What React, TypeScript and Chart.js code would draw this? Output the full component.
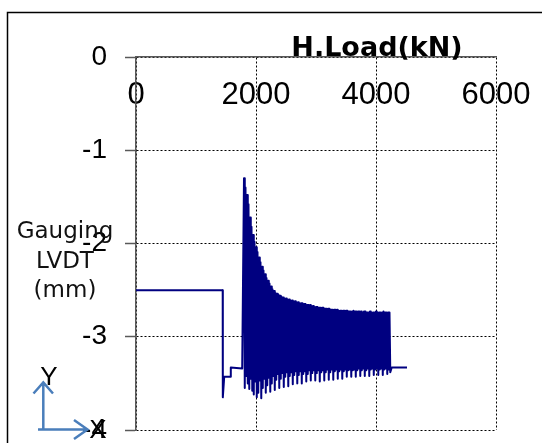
import React, { useEffect, useRef } from "react";
import { Chart, registerables } from "chart.js";

Chart.register(...registerables);

// Axis tick labels
const xTickLabels = ["0", "2000", "4000", "6000"];
const yTickLabels = ["-4", "-3", "-2", "-1", "0"];

// Pre-cycle part (H.Load kN, Gauging LVDT mm)
const preLoads = [0, 1445, 1447, 1470, 1575, 1580, 1770];
const preLvdt = [-2.5, -2.5, -3.65, -3.43, -3.43, -3.33, -3.34];

// Cyclic part: peaks
const peakLoads = [
  1800, 1825, 1850, 1875, 1900, 1925, 1950, 1975, 2000, 2025,
  2050, 2075, 2100, 2125, 2150, 2175, 2200, 2225, 2250, 2275,
  2300, 2325, 2350, 2375, 2400, 2425, 2450, 2475, 2500, 2525,
  2550, 2575, 2600, 2625, 2650, 2675, 2700, 2725, 2750, 2775,
  2800, 2825, 2850, 2875, 2900, 2925, 2950, 2975, 3000, 3025,
  3050, 3075, 3100, 3125, 3150, 3175, 3200, 3225, 3250, 3275,
  3300, 3325, 3350, 3375, 3400, 3425, 3450, 3475, 3500, 3525,
  3550, 3575, 3600, 3625, 3650, 3675, 3700, 3725, 3750, 3775,
  3800, 3825, 3850, 3875, 3900, 3925, 3950, 3975, 4000, 4025,
  4050, 4075, 4100, 4125, 4150, 4175, 4200, 4225,
];
const peakLvdt = [
  -1.30, -1.40, -1.48, -1.58, -1.72, -1.82, -1.91, -1.98, -2.04, -2.09,
  -2.15, -2.20, -2.25, -2.29, -2.33, -2.37, -2.40, -2.43, -2.46, -2.49,
  -2.51, -2.53, -2.54, -2.55, -2.56, -2.57, -2.58, -2.59, -2.59, -2.60,
  -2.60, -2.61, -2.61, -2.62, -2.62, -2.63, -2.63, -2.64, -2.64, -2.64,
  -2.65, -2.65, -2.66, -2.66, -2.66, -2.67, -2.67, -2.68, -2.68, -2.68,
  -2.69, -2.69, -2.69, -2.69, -2.70, -2.70, -2.70, -2.70, -2.71, -2.71,
  -2.71, -2.71, -2.71, -2.72, -2.72, -2.72, -2.72, -2.72, -2.72, -2.72,
  -2.73, -2.73, -2.73, -2.72, -2.73, -2.73, -2.73, -2.73, -2.73, -2.74,
  -2.73, -2.73, -2.74, -2.74, -2.73, -2.74, -2.74, -2.74, -2.73, -2.74,
  -2.74, -2.74, -2.74, -2.73, -2.74, -2.74, -2.74, -2.74,
];

// Cyclic part: troughs
const troughLoads = [
  1813, 1838, 1863, 1888, 1913, 1938, 1963, 1988, 2013, 2038,
  2063, 2088, 2113, 2138, 2163, 2188, 2213, 2238, 2263, 2288,
  2313, 2338, 2363, 2388, 2413, 2438, 2463, 2488, 2513, 2538,
  2563, 2588, 2613, 2638, 2663, 2688, 2713, 2738, 2763, 2788,
  2813, 2838, 2863, 2888, 2913, 2938, 2963, 2988, 3013, 3038,
  3063, 3088, 3113, 3138, 3163, 3188, 3213, 3238, 3263, 3288,
  3313, 3338, 3363, 3388, 3413, 3438, 3463, 3488, 3513, 3538,
  3563, 3588, 3613, 3638, 3663, 3688, 3713, 3738, 3763, 3788,
  3813, 3838, 3863, 3888, 3913, 3938, 3963, 3988, 4013, 4038,
  4063, 4088, 4113, 4138, 4163, 4188, 4213, 4238,
];
const troughLvdt = [
  -3.55, -3.42, -3.50, -3.56, -3.45, -3.58, -3.62, -3.48, -3.65, -3.60,
  -3.47, -3.66, -3.55, -3.45, -3.60, -3.52, -3.44, -3.59, -3.50, -3.42,
  -3.57, -3.46, -3.40, -3.55, -3.45, -3.39, -3.54, -3.43, -3.38, -3.53,
  -3.42, -3.38, -3.51, -3.41, -3.37, -3.50, -3.41, -3.37, -3.50, -3.40,
  -3.37, -3.48, -3.40, -3.36, -3.47, -3.39, -3.36, -3.47, -3.39, -3.36,
  -3.48, -3.38, -3.36, -3.47, -3.38, -3.35, -3.46, -3.38, -3.35, -3.46,
  -3.37, -3.35, -3.45, -3.37, -3.35, -3.45, -3.37, -3.35, -3.43, -3.36,
  -3.35, -3.43, -3.36, -3.35, -3.43, -3.36, -3.34, -3.42, -3.36, -3.34,
  -3.42, -3.36, -3.34, -3.42, -3.35, -3.34, -3.41, -3.35, -3.34, -3.41,
  -3.35, -3.34, -3.41, -3.35, -3.34, -3.40, -3.35, -3.38,
];

// Post-cycle part
const postLoads = [4262, 4517];
const postLvdt = [-3.33, -3.33];

const cycleLoads: number[] = [];
const cycleLvdt: number[] = [];
const nCycles = Math.min(peakLoads.length, peakLvdt.length, troughLoads.length, troughLvdt.length);
for (let i = 0; i < nCycles; i++) {
  cycleLoads.push(peakLoads[i], troughLoads[i]);
  cycleLvdt.push(peakLvdt[i], troughLvdt[i]);
}

const loads = [...preLoads, ...cycleLoads, ...postLoads];
const lvdt = [...preLvdt, ...cycleLvdt, ...postLvdt];

const titleText = "H.Load(kN)";
const yTitleLines = ["Gauging", "LVDT", "(mm)"];

export default function App() {
  const ref = useRef<HTMLCanvasElement>(null);

  useEffect(() => {
    const overlay = {
      id: "overlay",
      afterDraw(chart: any) {
        const ctx = chart.ctx as CanvasRenderingContext2D;
        const area = chart.chartArea;
        ctx.save();
        // outer frame
        ctx.strokeStyle = "#000";
        ctx.lineWidth = 1.5;
        ctx.strokeRect(7.5, 12.5, 800, 800);
        // title
        ctx.fillStyle = "#000";
        ctx.font = "bold 27px 'DejaVu Sans'";
        ctx.textAlign = "center";
        ctx.textBaseline = "alphabetic";
        ctx.fillText(titleText, area.left + 241, area.top - 1.5);
        // y title
        ctx.font = "23px 'DejaVu Sans'";
        ctx.fillStyle = "#111";
        const baselines = [237.5, 268, 297];
        yTitleLines.forEach((t, i) => ctx.fillText(t, 65, baselines[i]));
        // XY arrows
        ctx.strokeStyle = "#4a7ebb";
        ctx.lineWidth = 2.5;
        ctx.lineJoin = "miter";
        ctx.beginPath();
        ctx.moveTo(43.3, 430);
        ctx.lineTo(43.3, 382.5);
        ctx.moveTo(33.5, 393.5);
        ctx.lineTo(43.3, 382.5);
        ctx.lineTo(53, 393.5);
        ctx.moveTo(38, 429.5);
        ctx.lineTo(87.5, 429.5);
        ctx.moveTo(74, 420);
        ctx.lineTo(87.5, 429.5);
        ctx.lineTo(74, 439);
        ctx.stroke();
        ctx.fillStyle = "#000";
        ctx.font = "26px 'Liberation Sans'";
        ctx.textBaseline = "middle";
        ctx.fillText("Y", 49, 378);
        ctx.fillText("X", 98, 431);
        ctx.restore();
      },
    };

    const chart = new Chart(ref.current as HTMLCanvasElement, {
      type: "line",
      data: {
        datasets: [
          {
            data: loads.map((x, i) => ({ x, y: lvdt[i] })),
            borderColor: "#000080",
            backgroundColor: "#000080",
            borderWidth: 2,
            borderJoinStyle: "round",
            pointRadius: 0,
            tension: 0,
            fill: false,
          },
        ],
      },
      options: {
        animation: false,
        responsive: false,
        devicePixelRatio: 1,
        layout: { padding: { left: 0, right: 46, top: 0, bottom: 13 } },
        plugins: {
          legend: { display: false },
          tooltip: { enabled: false },
          title: { display: false },
        },
        scales: {
          x: {
            type: "linear",
            position: "top",
            min: 0,
            max: 6000,
            afterFit(scale: any) {
              scale.height = 57;
              scale.paddingLeft = 0;
              scale.paddingRight = 0;
            },
            ticks: {
              stepSize: 2000,
              mirror: true,
              padding: 20,
              z: -2,
              color: "#000",
              font: { family: "'Liberation Sans'", size: 31 },
              callback: (_v: any, i: number) => xTickLabels[i],
              maxRotation: 0,
              autoSkip: false,
            },
            grid: { color: "#000", lineWidth: 1, drawTicks: false },
            border: { display: true, color: "#595959", width: 1.5, dash: [2, 2] },
          },
          y: {
            type: "linear",
            min: -4,
            max: 0,
            afterFit(scale: any) {
              scale.width = 136;
              scale.paddingTop = 0;
              scale.paddingBottom = 0;
            },
            ticks: {
              stepSize: 1,
              padding: 18,
              color: "#000",
              font: { family: "'Liberation Sans'", size: 28 },
              callback: (_v: any, i: number) => yTickLabels[i],
            },
            grid: {
              color: "#000",
              lineWidth: 1,
              drawTicks: true,
              tickLength: 11,
              tickColor: "#595959",
              tickWidth: 1.5,
            },
            border: { display: true, color: "#595959", width: 1.5, dash: [2, 2] },
          },
        },
      },
      plugins: [overlay],
    } as any);

    return () => chart.destroy();
  }, []);

  return (
    <div
      style={{
        position: "fixed",
        left: 0,
        top: 0,
        width: 542,
        height: 443,
        background: "#fff",
      }}
    >
      <canvas ref={ref} width={542} height={443} style={{ display: "block" }} />
    </div>
  );
}
